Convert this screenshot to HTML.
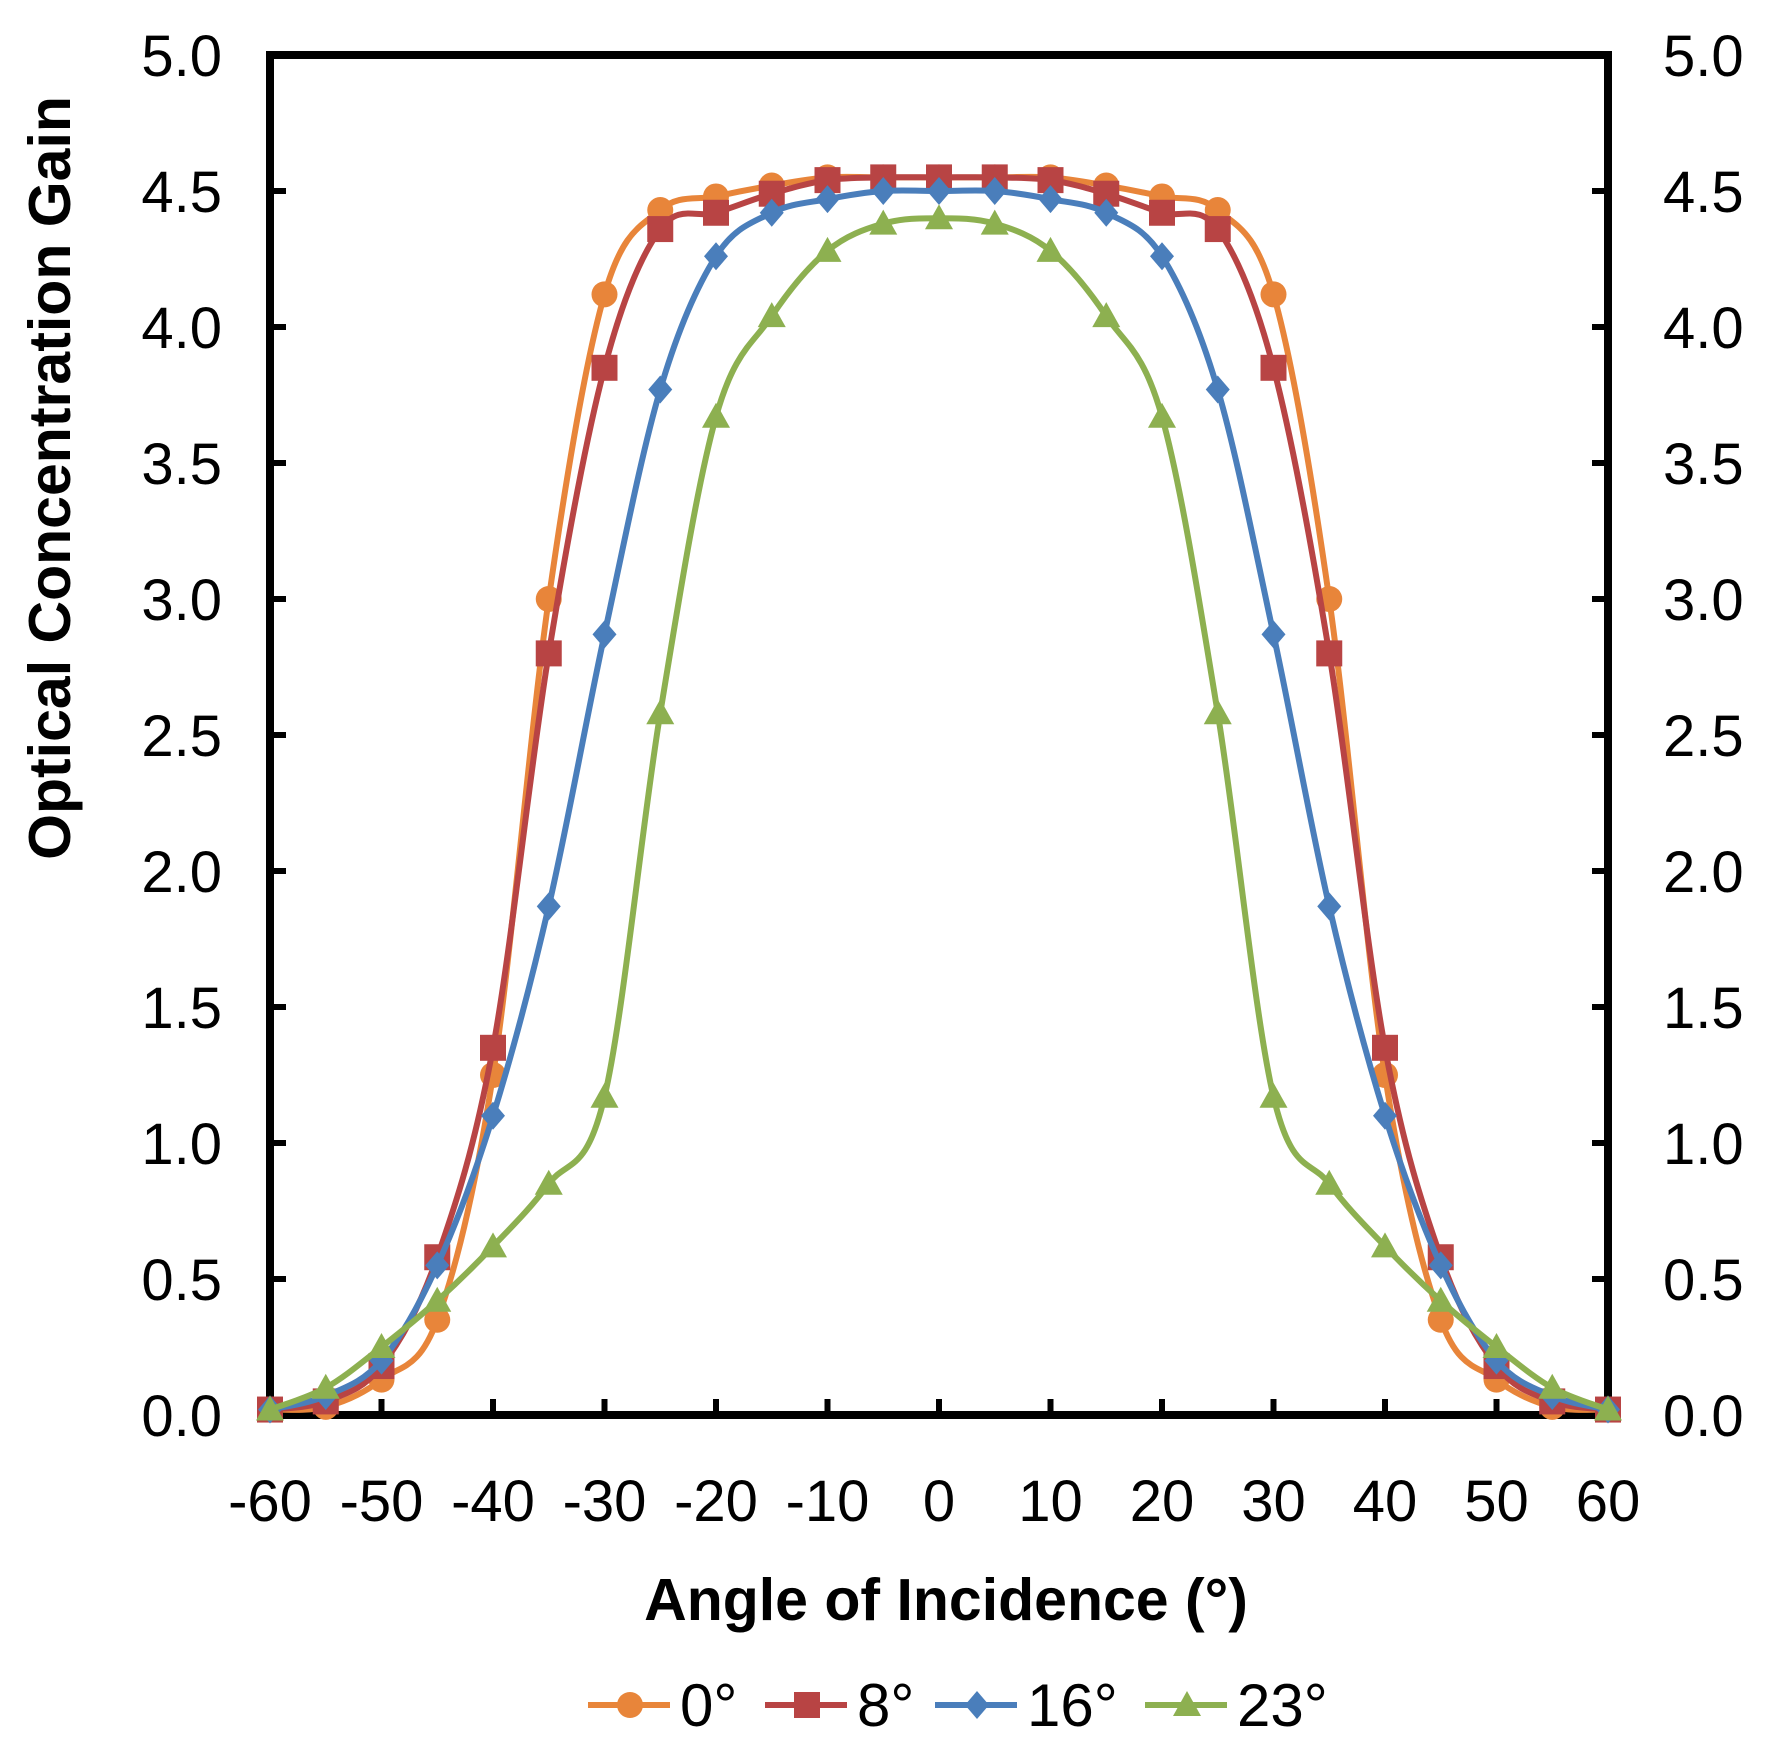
<!DOCTYPE html>
<html><head><meta charset="utf-8"><style>
body{margin:0;background:#fff}
svg{display:block}
text{font-family:"Liberation Sans",Arial,sans-serif}
</style></head><body>
<svg id="s" width="1772" height="1750" xmlns="http://www.w3.org/2000/svg"></svg>
<script>
const s=document.getElementById('s');
const L=270,R=1608,T=55,B=1415;
const X=v=>L+(v+60)/120*(R-L), Y=v=>B-v/5*(B-T);
let h='';
const xs=[-60,-55,-50,-45,-40,-35,-30,-25,-20,-15,-10,-5,0];
const data=[
 ['#E8853A','c',[0.02,0.03,0.13,0.35,1.25,3.0,4.12,4.43,4.48,4.52,4.55,4.55,4.55]],
 ['#B84444','s',[0.02,0.05,0.18,0.58,1.35,2.8,3.85,4.36,4.42,4.49,4.54,4.55,4.55]],
 ['#4A7EBB','d',[0.02,0.07,0.2,0.55,1.1,1.87,2.87,3.77,4.26,4.42,4.47,4.5,4.5]],
 ['#8DB050','t',[0.02,0.1,0.25,0.42,0.62,0.85,1.17,2.58,3.67,4.04,4.28,4.38,4.4]]];
function mk(t,x,y,c){
 if(t=='c')return `<circle cx="${x}" cy="${y}" r="13" fill="${c}"/>`;
 if(t=='s')return `<rect x="${x-13}" y="${y-13}" width="26" height="26" fill="${c}"/>`;
 if(t=='d')return `<polygon points="${x},${y-14} ${x+12},${y} ${x},${y+14} ${x-12},${y}" fill="${c}"/>`;
 return `<polygon points="${x},${y-14} ${x+14},${y+11} ${x-14},${y+11}" fill="${c}"/>`;
}
for(let i=0;i<=10;i++){const y=Y(i*0.5);
 h+=`<line x1="${L}" y1="${y}" x2="${L+16}" y2="${y}" stroke="#000" stroke-width="6"/>`;
 h+=`<line x1="${R-16}" y1="${y}" x2="${R}" y2="${y}" stroke="#000" stroke-width="6"/>`;
 h+=`<text x="222" y="${y+21}" font-size="58" text-anchor="end">${(i*0.5).toFixed(1)}</text>`;
 h+=`<text x="1663" y="${y+21}" font-size="58">${(i*0.5).toFixed(1)}</text>`;}
for(let v=-60;v<=60;v+=10){const x=X(v);
 h+=`<line x1="${x}" y1="${B}" x2="${x}" y2="${B-16}" stroke="#000" stroke-width="6"/>`;
 h+=`<text x="${x}" y="1521" font-size="58" text-anchor="middle">${v}</text>`;}
h+=`<rect x="${L}" y="${T}" width="${R-L}" height="${B-T}" fill="none" stroke="#000" stroke-width="8"/>`;
for(const [c,t,v] of data){
 const px=[],py=[];
 for(let i=0;i<13;i++){px.push(X(xs[i]));py.push(Y(v[i]));}
 for(let i=11;i>=0;i--){px.push(X(-xs[i]));py.push(Y(v[i]));}
 let d=`M${px[0]},${py[0]}`;
 for(let i=0;i<px.length-1;i++){
  const p0=Math.max(i-1,0),p3=Math.min(i+2,px.length-1);
  const c1x=px[i]+(px[i+1]-px[p0])/6,c1y=py[i]+(py[i+1]-py[p0])/6;
  const c2x=px[i+1]-(px[p3]-px[i])/6,c2y=py[i+1]-(py[p3]-py[i])/6;
  d+=` C${c1x},${c1y} ${c2x},${c2y} ${px[i+1]},${py[i+1]}`;}
 h+=`<path d="${d}" fill="none" stroke="${c}" stroke-width="6"/>`;
 for(let i=0;i<px.length;i++)h+=mk(t,px[i],py[i],c);
}
h+=`<text x="946" y="1620" font-size="59" font-weight="bold" text-anchor="middle">Angle of Incidence (°)</text>`;
h+=`<text transform="translate(70,478) rotate(-90)" font-size="59" font-weight="bold" text-anchor="middle">Optical Concentration Gain</text>`;
const lg=[[630,'0°'],[807,'8°'],[977,'16°'],[1187,'23°']];
lg.forEach(([x,l],i)=>{const c=data[i][0],y=1705;
 h+=`<line x1="${x-42}" y1="${y}" x2="${x+40}" y2="${y}" stroke="${c}" stroke-width="6"/>`;
 h+=mk(data[i][1],x,y,c);
 h+=`<text x="${x+50}" y="${y+21}" font-size="60">${l}</text>`;});
s.innerHTML=h;
</script>
</body></html>
